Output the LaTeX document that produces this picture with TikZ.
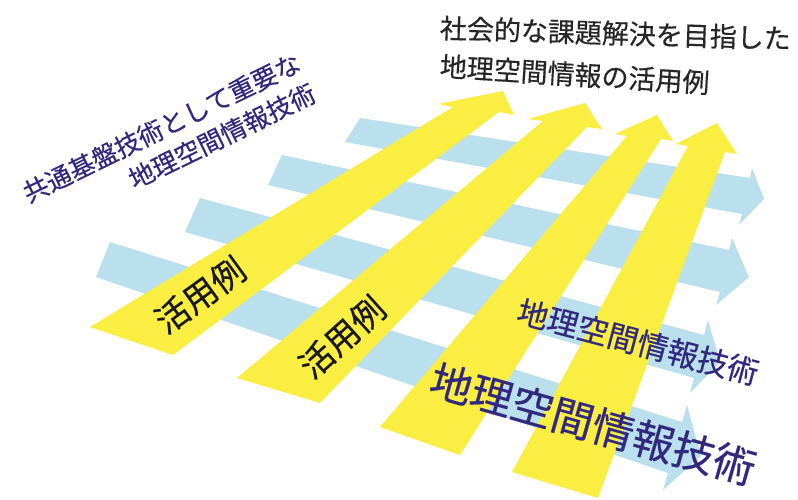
\documentclass[tikz,border=0pt]{standalone}
\usepackage{fontspec}
\newfontfamily\jp{Noto Sans CJK JP}[FakeBold=0.4]
\definecolor{bandblue}{RGB}{186,224,238}
\definecolor{bandyellow}{RGB}{250,238,66}
\definecolor{navytext}{RGB}{50,40,125}
\tikzset{
  bluearrow/.style={fill=bandblue, draw=none},
  yellowarrow/.style={fill=bandyellow, draw=none},
  jtext/.style={inner sep=0pt, outer sep=0pt},
}
\begin{document}
\begin{tikzpicture}[x=1pt,y=-1pt]
\useasboundingbox (0,0) rectangle (798,500);
\fill[white] (0,0) rectangle (798,500);

% blue arrows (technology layers), pointing right
\fill[bluearrow] (360,118) -- (750,178) -- (752,168) -- (764,199) -- (739,225) -- (742,214) -- (345,142) -- cycle;
\fill[bluearrow] (282,155) -- (729,250) -- (732,238) -- (749,277) -- (716,305) -- (720,292) -- (268,185) -- cycle;
\fill[bluearrow] (200,198) -- (704,335) -- (708,320) -- (720,362) -- (690,393) -- (694,378) -- (185,232) -- cycle;
\fill[bluearrow] (110,242) -- (682,422) -- (687,405) -- (701,456) -- (663,490) -- (668,473) -- (96,277) -- cycle;

% yellow arrows (application examples), pointing up-right
\fill[yellowarrow] (90,327) -- (453,107) -- (438,104) -- (503,91) -- (514,115) -- (499,112) -- (173,355) -- cycle;
\fill[yellowarrow] (237,378) -- (543,121) -- (528,119) -- (585,103) -- (602,129) -- (587,127) -- (320,403) -- cycle;
\fill[yellowarrow] (380,427) -- (627,136) -- (615,134) -- (657,115) -- (673,141) -- (661,139) -- (460,455) -- cycle;
\fill[yellowarrow] (512,472) -- (688,146) -- (676,144) -- (717,123) -- (737,154) -- (725,152) -- (598,498) -- cycle;

% texts
\node[jtext, text=navytext, font=\jp\fontsize{25.5}{34}\selectfont, align=right, rotate=26] (common) at (169,143) {共通基盤技術として重要な\\地理空間情報技術};
\node[jtext, text=black!85, font=\jp\fontsize{27}{32}\selectfont, anchor=west, rotate=-1.7] (goal1) at (440,28) {社会的な課題解決を目指した};
\node[jtext, text=black!85, font=\jp\fontsize{27}{32}\selectfont, anchor=west, rotate=-3.6] (goal2) at (440,66) {地理空間情報の活用例};
\node[jtext, text=black!90, font=\jp\fontsize{34}{34}\selectfont, rotate=36] (use1) at (200,295) {活用例};
\node[jtext, text=black!90, font=\jp\fontsize{34}{34}\selectfont, rotate=42] (use2) at (342,337) {活用例};
\node[jtext, text=navytext, font=\jp\fontsize{31}{31}\selectfont, rotate=-14.8] (tech1) at (638,342) {地理空間情報技術};
\node[jtext, text=navytext, font=\jp\fontsize{42}{42}\selectfont, rotate=-15.8] (tech2) at (593,424) {地理空間情報技術};
\end{tikzpicture}
\end{document}
